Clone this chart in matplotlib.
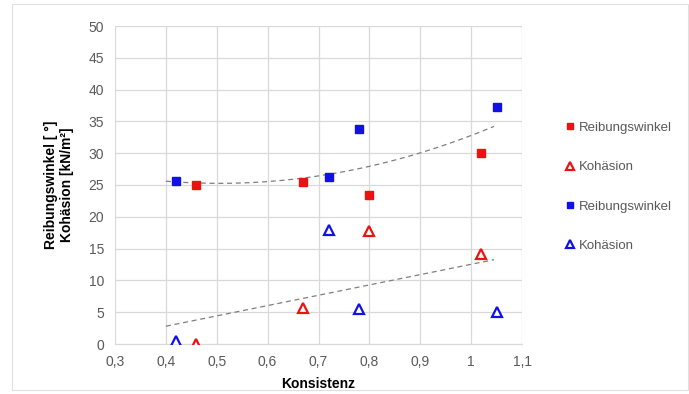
import numpy as np
import matplotlib
matplotlib.use("Agg")
import matplotlib.pyplot as plt
from matplotlib.patches import Rectangle

# Data
red_x = [0.46, 0.67, 0.80, 1.02]
red_reib = [25.0, 25.5, 23.4, 30.0]
red_koh = [0.0, 5.6, 17.8, 14.2]
blue_x = [0.42, 0.72, 0.78, 1.05]
blue_reib = [25.7, 26.2, 33.8, 37.3]
blue_koh = [0.4, 18.0, 5.5, 5.0]
trend_range = [0.40, 1.045]

xticks = [0.3, 0.4, 0.5, 0.6, 0.7, 0.8, 0.9, 1.0, 1.1]
xticklabels = ["0,3", "0,4", "0,5", "0,6", "0,7", "0,8", "0,9", "1", "1,1"]
yticks = [0, 5, 10, 15, 20, 25, 30, 35, 40, 45, 50]

RED = "#EE1111"
BLUE = "#1111E6"
GRID = "#D9D9D9"
TXT = "#595959"

plt.rcParams['font.family'] = ['Liberation Sans', 'DejaVu Sans']

fig = plt.figure(figsize=(6.89, 3.94), dpi=100)
fig.patches.append(Rectangle((12/689, 4/394), 676/689, 386/394, transform=fig.transFigure,
                             fill=False, edgecolor="#E0E0E0", linewidth=0.8))
ax = fig.add_axes([115/689, 1 - 344/394, (522-115)/689, (344-26)/394])

# trend lines (fits of the data, as in the spreadsheet)
all_x = np.array(red_x + blue_x)
reib_all = np.array(red_reib + blue_reib)
koh_all = np.array(red_koh + blue_koh)
xx = np.linspace(trend_range[0], trend_range[1], 100)
p2 = np.polyfit(all_x, reib_all, 2)
p1 = np.polyfit(all_x, koh_all, 1)
ax.plot(xx, np.polyval(p2, xx), ls=(0, (4, 3)), color="#7F7F7F", lw=0.9, zorder=2)
ax.plot(xx, np.polyval(p1, xx), ls=(0, (4, 3)), color="#7F7F7F", lw=0.9, zorder=2)

ax.plot(red_x, red_reib, 's', color=RED, ms=6, ls='none', label="Reibungswinkel", zorder=3)
ax.plot(red_x, red_koh, '^', mfc='white', mec=RED, mew=1.6, ms=7, ls='none', label="Kohäsion", zorder=3)
ax.plot(blue_x, blue_reib, 's', color=BLUE, ms=6, ls='none', label="Reibungswinkel", zorder=3)
ax.plot(blue_x, blue_koh, '^', mfc='white', mec=BLUE, mew=1.6, ms=7, ls='none', label="Kohäsion", zorder=3)

ax.set_xlim(0.3, 1.1)
ax.set_ylim(0, 50)
ax.set_xticks(xticks)
ax.set_xticklabels(xticklabels)
ax.set_yticks(yticks)
ax.grid(True, color=GRID, lw=0.9)
ax.set_axisbelow(True)
for s in ['top', 'right', 'left']:
    ax.spines[s].set_visible(False)
ax.spines['bottom'].set_color(GRID)
ax.tick_params(length=0, labelsize=10, colors=TXT, pad=8)

ax.set_xlabel("Konsistenz", fontsize=10, fontweight='bold', labelpad=6)
ax.set_ylabel("Reibungswinkel [ °]\nKohäsion [kN/m²]", fontsize=10, fontweight='bold',
              labelpad=10, linespacing=1.25)

leg = ax.legend(loc='upper left', bbox_to_anchor=(552/689, 1 - 110/394), bbox_transform=fig.transFigure,
                frameon=False, fontsize=9.5, labelspacing=2.05, handletextpad=0.1,
                handlelength=1.0, markerscale=0.8)
for t in leg.get_texts():
    t.set_color(TXT)

fig.savefig("out.png", dpi=100)
